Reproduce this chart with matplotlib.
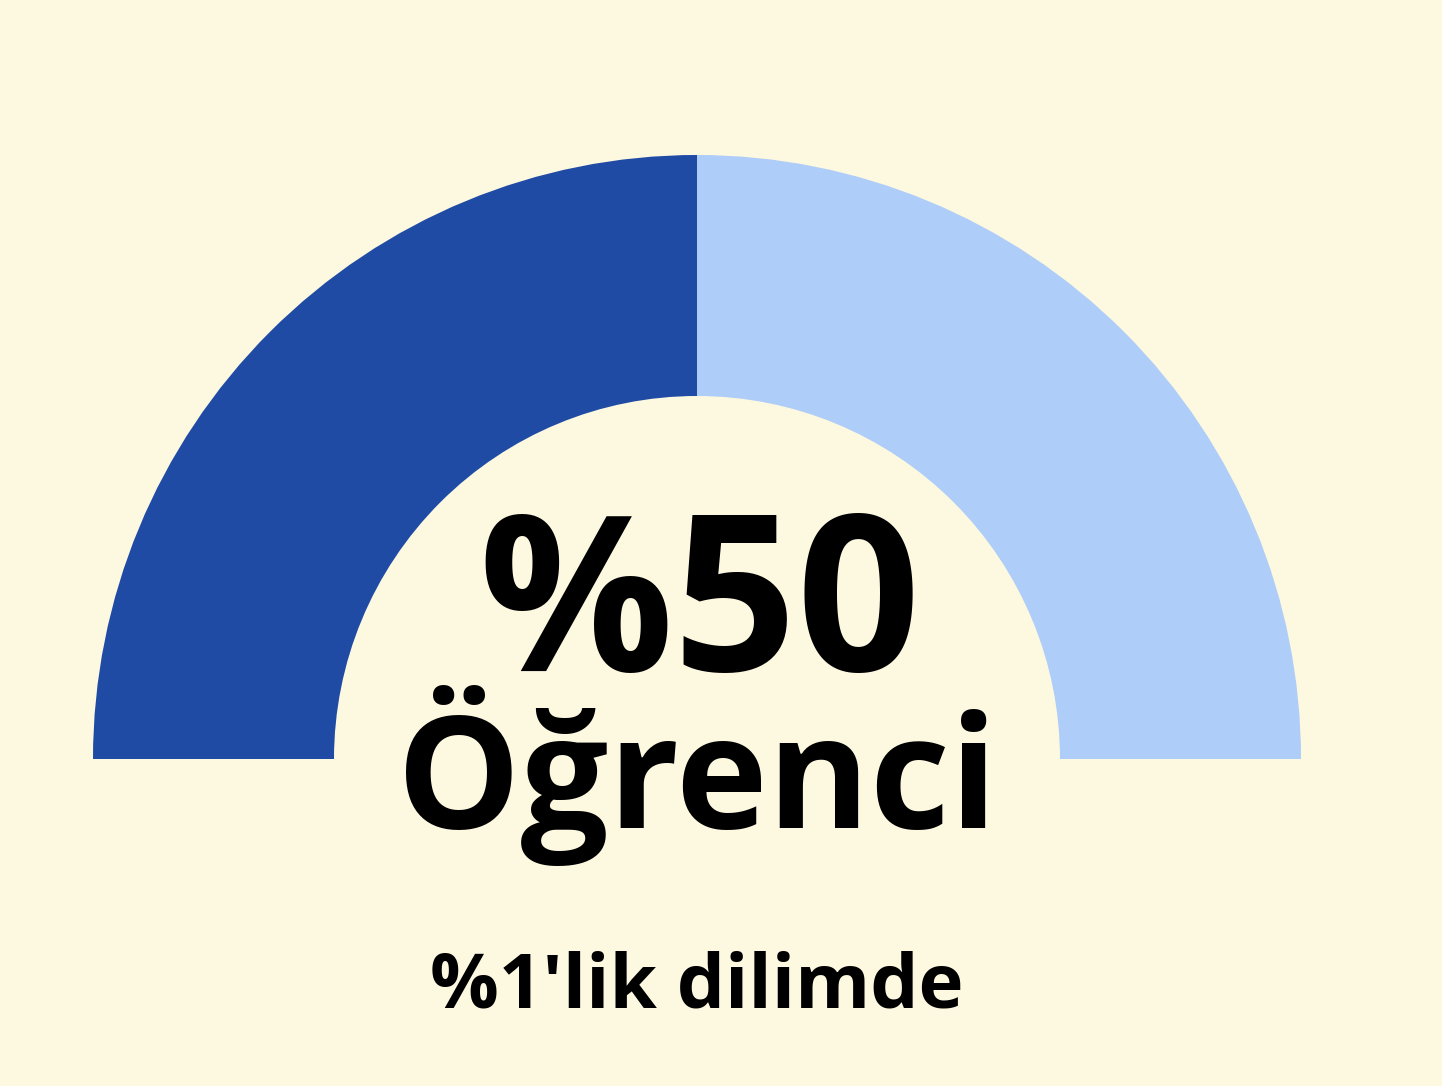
import matplotlib
matplotlib.use("Agg")
import matplotlib.pyplot as plt
from matplotlib.patches import Wedge

# gauge shares (percent of the half ring)
shares = [50, 50]
colors = ["#1f4ba5", "#aecdf8"]
big_label = "%50"
mid_label = "Öğrenci"
sub_label = "%1'lik dilimde"

W, H = 1442, 1086
BG = "#fdf8e0"

fig = plt.figure(figsize=(W / 100, H / 100), dpi=100, facecolor=BG)
ax = fig.add_axes([0, 0, 1, 1])
ax.set_xlim(0, W)
ax.set_ylim(0, H)
ax.set_facecolor(BG)
ax.axis("off")

cx, cy = 697, H - 759
r_out, r_in = 604, 363

# draw half ring from left (180 deg) to right (0 deg)
start = 180.0
for val, c in zip(shares, colors):
    span = 180.0 * val / sum(shares)
    ax.add_patch(Wedge((cx, cy), r_out, start - span, start,
                       width=r_out - r_in, facecolor=c, edgecolor="none"))
    start -= span

font = "Open Sans"
ax.text(700, H - 671, big_label, ha="center", va="baseline",
        fontsize=156, fontweight="bold", family=font, color="black")
ax.text(697, H - 828, mid_label, ha="center", va="baseline",
        fontsize=112, fontweight="bold", family=font, color="black")
ax.text(697, H - 1008, sub_label, ha="center", va="baseline",
        fontsize=55, fontweight="bold", family=font, color="black")

plt.savefig("out.png", dpi=100, facecolor=BG)
